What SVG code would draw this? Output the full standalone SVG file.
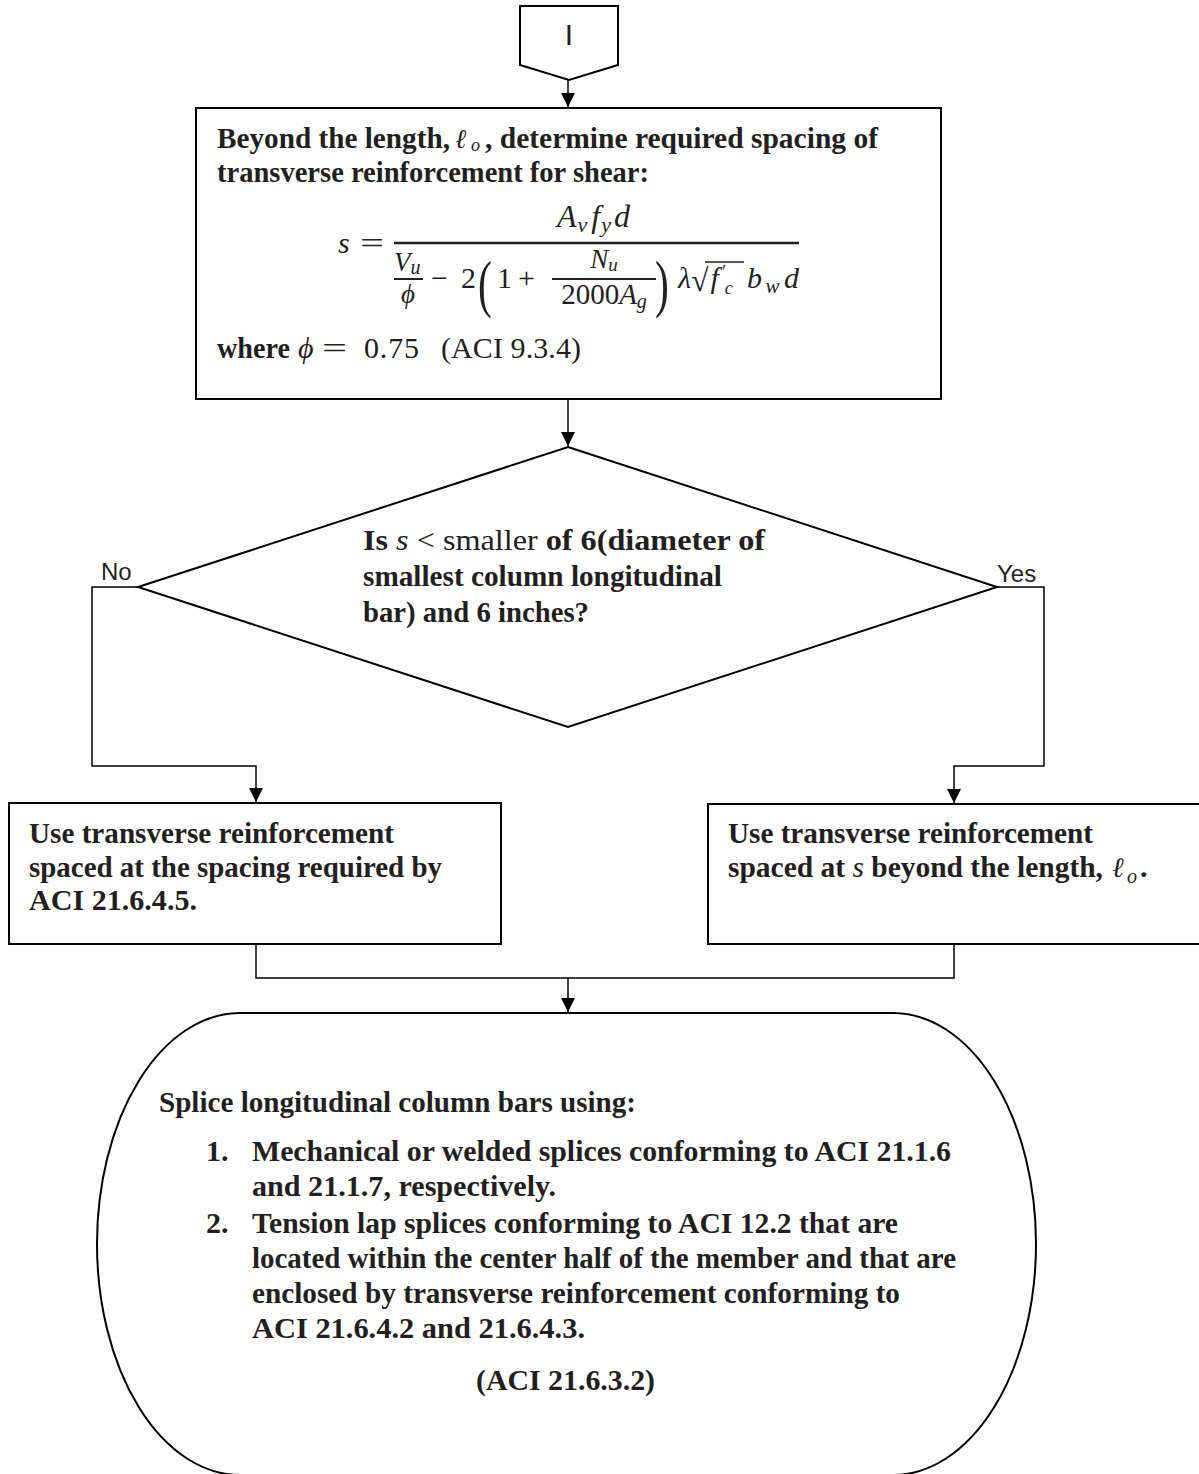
<svg xmlns="http://www.w3.org/2000/svg" width="1199" height="1474" viewBox="0 0 1199 1474">
<defs>
<marker id="arr" viewBox="0 0 10 10" refX="10" refY="5" markerWidth="14" markerHeight="15" markerUnits="userSpaceOnUse" orient="auto">
<path d="M0,0 L10,5 L0,10 z" fill="#000"/>
</marker>
<style>
.shape{fill:#fff;stroke:#000;stroke-width:2}
.con{fill:none;stroke:#000;stroke-width:1.5}
.t{font-family:"Liberation Serif","Times New Roman",serif;font-size:30px;font-weight:bold;fill:#231f20}
.m{font-family:"Liberation Serif","Times New Roman",serif;font-style:italic;font-weight:normal;fill:#231f20}
.u{font-family:"Liberation Serif","Times New Roman",serif;font-style:normal;font-weight:normal;fill:#231f20}
.lbl{font-family:"Liberation Sans",Arial,sans-serif;font-size:24px;fill:#231f20}
</style>
</defs>

<g id="connectors">
<path class="con" d="M568,80 L568,107" marker-end="url(#arr)"/>
<path class="con" d="M568,399 L568,446" marker-end="url(#arr)"/>
<path class="con" d="M138,587 L92,587 L92,766 L256,766 L256,802" marker-end="url(#arr)"/>
<path class="con" d="M997,587 L1044,587 L1044,766 L954,766 L954,803" marker-end="url(#arr)"/>
<path class="con" d="M256,944 L256,978 L954,978 L954,944"/>
<path class="con" d="M568,978 L568,1012" marker-end="url(#arr)"/>
<text class="lbl" x="101" y="580">No</text>
<text class="lbl" x="997" y="582">Yes</text>
</g>

<g id="offpage">
<polygon class="shape" points="520,6 618,6 618,65 569,80 520,65"/>
<text x="569" y="45" text-anchor="middle" font-family="Liberation Sans, Arial, sans-serif" font-size="30" fill="#231f20">I</text>
</g>

<g id="box1">
<rect class="shape" x="196" y="108" width="745" height="291"/>
<text class="t" x="217" y="148" textLength="233" lengthAdjust="spacingAndGlyphs">Beyond the length,</text>
<text class="m" x="455" y="148" font-size="27">ℓ</text>
<text class="m" x="471" y="151" font-size="18">o</text>
<text class="t" x="485" y="148" textLength="393" lengthAdjust="spacingAndGlyphs">, determine required spacing of</text>
<text class="t" x="217" y="182" textLength="432" lengthAdjust="spacingAndGlyphs">transverse reinforcement for shear:</text>
<!-- formula -->
<text class="m" x="338" y="253" font-size="30">s</text>
<text class="u" x="360" y="253" font-size="30" textLength="24" lengthAdjust="spacingAndGlyphs">=</text>
<line x1="394" y1="243" x2="799" y2="243" stroke="#231f20" stroke-width="2.4"/>
<text class="m" x="557" y="227" font-size="32">A<tspan font-size="22" dx="1" dy="5">v</tspan><tspan dx="4" dy="-5">f</tspan><tspan font-size="22" dx="1" dy="5">y</tspan><tspan dx="3" dy="-5">d</tspan></text>
<text class="m" x="394" y="271" font-size="27">V<tspan font-size="20" dy="3">u</tspan></text>
<line x1="394" y1="279" x2="423" y2="279" stroke="#231f20" stroke-width="2"/>
<text class="m" x="408" y="303" font-size="27" text-anchor="middle">ϕ</text>
<text class="u" x="431" y="288" font-size="30">−</text>
<text class="u" x="461" y="288" font-size="30">2</text>
<text class="u" font-size="64" transform="translate(478,305) scale(0.65,1)">(</text>
<text class="u" x="497" y="288" font-size="30">1</text>
<text class="u" x="518" y="288" font-size="30">+</text>
<text class="m" x="604" y="268" font-size="27" text-anchor="middle">N<tspan font-size="19" dy="3">u</tspan></text>
<line x1="552" y1="279" x2="656" y2="279" stroke="#231f20" stroke-width="2"/>
<text class="u" x="604" y="304" font-size="29" text-anchor="middle">2000<tspan class="m">A</tspan><tspan class="m" font-size="20" dy="4">g</tspan></text>
<text class="u" font-size="64" transform="translate(655,305) scale(0.65,1)">)</text>
<text class="m" x="678" y="288" font-size="30">λ<tspan class="u" font-size="32" dy="3">√</tspan><tspan dx="2" dy="-3">f</tspan><tspan font-size="18" dx="2" dy="-10">′</tspan><tspan font-size="18" dx="0" dy="16">c</tspan></text>
<line x1="705" y1="262" x2="744" y2="262" stroke="#231f20" stroke-width="1.5"/>
<text class="m" x="747" y="288" font-size="30" textLength="52" lengthAdjust="spacing">b<tspan font-size="21" dx="1" dy="5">w</tspan><tspan dx="2" dy="-5">d</tspan></text>
<text class="t" x="217" y="358" textLength="73" lengthAdjust="spacingAndGlyphs">where</text>
<text class="m" x="298" y="358" font-size="30">ϕ</text>
<text class="u" x="322" y="358" font-size="30" textLength="25" lengthAdjust="spacingAndGlyphs">=</text>
<text class="u" x="364" y="358" font-size="30" textLength="55" lengthAdjust="spacing">0.75</text>
<text class="u" x="441" y="358" font-size="30" textLength="140" lengthAdjust="spacing">(ACI 9.3.4)</text>
</g>

<g id="decision">
<polygon class="shape" points="568,447 997,587 568,727 138,587"/>
<text class="t" x="363" y="550" textLength="402" lengthAdjust="spacingAndGlyphs">Is <tspan class="m">s</tspan><tspan class="u"> &lt;  smaller </tspan>of 6(diameter of</text>
<text class="t" x="363" y="586" textLength="359" lengthAdjust="spacingAndGlyphs">smallest column longitudinal</text>
<text class="t" x="363" y="622" textLength="226" lengthAdjust="spacingAndGlyphs">bar) and 6 inches?</text>
</g>

<g id="boxNo">
<rect class="shape" x="9" y="803" width="492" height="141"/>
<text class="t" x="29" y="843" textLength="365" lengthAdjust="spacingAndGlyphs">Use transverse reinforcement</text>
<text class="t" x="29" y="877" textLength="413" lengthAdjust="spacingAndGlyphs">spaced at the spacing required by</text>
<text class="t" x="29" y="910" textLength="168" lengthAdjust="spacingAndGlyphs">ACI 21.6.4.5.</text>
</g>

<g id="boxYes">
<rect class="shape" x="708" y="804" width="510" height="140"/>
<text class="t" x="728" y="843" textLength="365" lengthAdjust="spacingAndGlyphs">Use transverse reinforcement</text>
<text class="t" x="728" y="877" textLength="375" lengthAdjust="spacingAndGlyphs">spaced at <tspan class="m">s</tspan> beyond the length,</text>
<text class="m" x="1112" y="877" font-size="28">ℓ</text>
<text class="m" x="1127" y="883" font-size="20">o</text>
<text class="t" x="1140" y="877">.</text>
</g>

<g id="terminal">
<rect class="shape" x="97" y="1013" width="939" height="462" rx="143" ry="231"/>
<text class="t" x="159" y="1112" textLength="477" lengthAdjust="spacingAndGlyphs">Splice longitudinal column bars using:</text>
<text class="t" x="206" y="1161">1.</text>
<text class="t" x="252" y="1161" textLength="699" lengthAdjust="spacingAndGlyphs">Mechanical or welded splices conforming to ACI 21.1.6</text>
<text class="t" x="252" y="1196" textLength="304" lengthAdjust="spacingAndGlyphs">and 21.1.7, respectively.</text>
<text class="t" x="206" y="1233">2.</text>
<text class="t" x="252" y="1233" textLength="646" lengthAdjust="spacingAndGlyphs">Tension lap splices conforming to ACI 12.2 that are</text>
<text class="t" x="252" y="1268" textLength="704" lengthAdjust="spacingAndGlyphs">located within the center half of the member and that are</text>
<text class="t" x="252" y="1303" textLength="648" lengthAdjust="spacingAndGlyphs">enclosed by transverse reinforcement conforming to</text>
<text class="t" x="252" y="1338" textLength="333" lengthAdjust="spacingAndGlyphs">ACI 21.6.4.2 and 21.6.4.3.</text>
<text class="t" x="476" y="1390" textLength="179" lengthAdjust="spacingAndGlyphs">(ACI 21.6.3.2)</text>
</g>
</svg>
